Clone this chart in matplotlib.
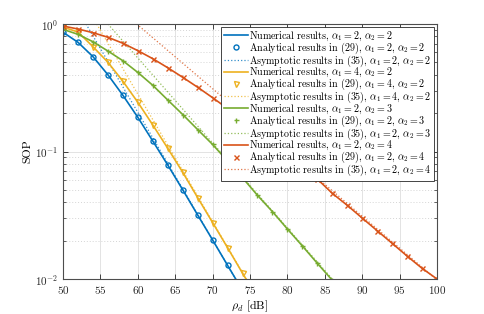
import matplotlib
matplotlib.use("Agg")
import matplotlib.pyplot as plt
import numpy as np
from matplotlib.ticker import LogLocator, NullFormatter, MultipleLocator

plt.rcParams['font.family'] = 'serif'
plt.rcParams['font.serif'] = ['cmr10', 'DejaVu Serif']
plt.rcParams['mathtext.fontset'] = 'cm'
plt.rcParams['axes.formatter.use_mathtext'] = True
plt.rcParams['axes.unicode_minus'] = False

# ---- data ----
snr_db = [50, 52, 54, 56, 58, 60, 62, 64, 66, 68, 70, 72, 74, 76, 78, 80, 82, 84, 86, 88, 90, 92, 94, 96, 98, 100]

# log10(SOP)
log_sop_a22 = [-0.065, -0.1435, -0.256, -0.398, -0.559, -0.732, -0.918, -1.106, -1.300, -1.498, -1.694, -1.893, -2.09]
log_sop_a42 = [-0.024, -0.063, -0.178, -0.300, -0.449, -0.614, -0.792, -0.975, -1.163, -1.362, -1.558, -1.755, -1.955, -2.15]
log_sop_a23 = [-0.042, -0.081, -0.139, -0.212, -0.288, -0.380, -0.481, -0.596, -0.710, -0.828, -0.945, -1.075, -1.206,
               -1.344, -1.472, -1.608, -1.741, -1.877, -2.01]
log_sop_a24 = [-0.016, -0.039, -0.068, -0.104, -0.151, -0.209, -0.272, -0.343, -0.418, -0.496, -0.578, -0.663, -0.751,
               -0.840, -0.931, -1.023, -1.118, -1.216, -1.328, -1.422, -1.522, -1.621, -1.720, -1.820, -1.916, -2.0]

# asymptotic straight lines (log-log): endpoints in dB and SOP
asym_x_a22 = [53.07, 73.07]
asym_x_a42 = [54.5, 74.5]
asym_x_a23 = [56.0, 86.0]
asym_x_a24 = [59.85, 99.85]
asym_y = [1.0, 0.01]

labels_cfg = [
    (r"$\alpha_1 = 2$, $\alpha_2 = 2$", log_sop_a22, asym_x_a22, '#0072BD', 'o'),
    (r"$\alpha_1 = 4$, $\alpha_2 = 2$", log_sop_a42, asym_x_a42, '#EDB120', 'v'),
    (r"$\alpha_1 = 2$, $\alpha_2 = 3$", log_sop_a23, asym_x_a23, '#77AC30', '+'),
    (r"$\alpha_1 = 2$, $\alpha_2 = 4$", log_sop_a24, asym_x_a24, '#D95319', 'x'),
]

fig = plt.figure(figsize=(4.85, 3.14), dpi=100)
ax = fig.add_axes([0.130, 0.1115, 0.771, 0.812])

handles = []
for lab, logs, ax_x, col, mk in labels_cfg:
    x = snr_db[:len(logs)]
    y = [10 ** v for v in logs]
    h1, = ax.plot(x, y, '-', color=col, lw=1.2, label="Numerical results, " + lab)
    h2, = ax.plot(x, y, linestyle='none', marker=mk, color=col, mfc='none', ms=3.6, mew=1.0,
                  label="Analytical results in (29), " + lab)
    h3, = ax.plot(ax_x, asym_y, ':', color=col, lw=0.9, alpha=0.8,
                  label="Asymptotic results in (35), " + lab)
    handles += [h1, h2, h3]

ax.set_yscale('log')
ax.set_xlim(50, 100)
ax.set_ylim(1e-2, 1)
ax.xaxis.set_major_locator(MultipleLocator(5))
ax.yaxis.set_major_locator(LogLocator(base=10, numticks=5))
ax.yaxis.set_minor_locator(LogLocator(base=10, subs=np.arange(2, 10), numticks=20))
ax.yaxis.set_minor_formatter(NullFormatter())

ax.grid(True, which='major', color='#e3e3e3', lw=0.7, ls='-')
ax.grid(True, which='minor', axis='y', color='#d5d5d5', lw=0.7, ls=(0, (1, 2)))
ax.set_axisbelow(True)

for s in ax.spines.values():
    s.set_color('#4d4d4d')
    s.set_linewidth(0.8)
ax.tick_params(which='both', direction='in', top=True, right=True, colors='#262626', labelsize=8)
ax.tick_params(which='major', length=3.5, width=0.6)
ax.tick_params(which='minor', length=2, width=0.5)

ax.set_xlabel(r"$\rho_d$ [dB]", fontsize=8.5, labelpad=2)
ax.set_ylabel("SOP", fontsize=8.5, labelpad=2)

leg = ax.legend(handles=handles, loc='upper right', fontsize=7.2, frameon=True, fancybox=False,
                edgecolor='#262626', framealpha=1, borderpad=0.25, labelspacing=-0.25,
                handlelength=2.4, handletextpad=0.15, borderaxespad=0.3)
leg.get_frame().set_linewidth(0.6)

fig.savefig("out.png", dpi=100)
